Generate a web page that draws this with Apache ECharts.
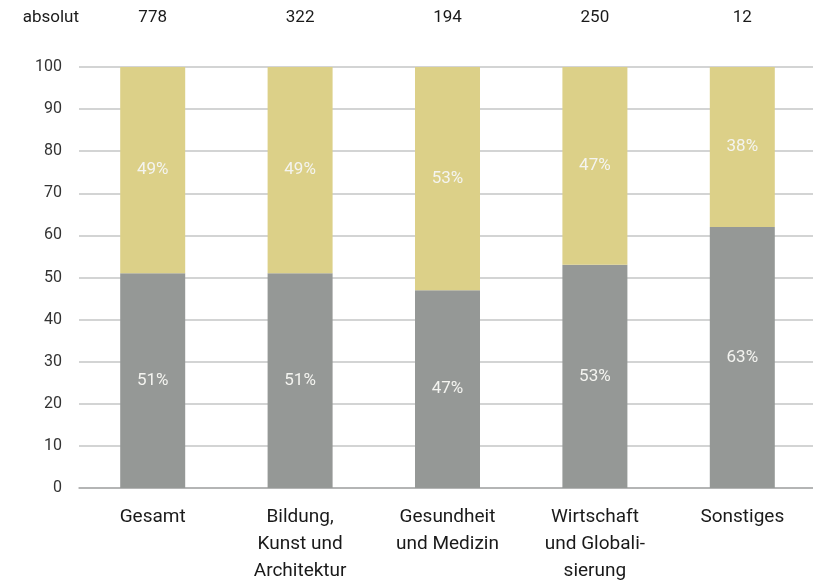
<!DOCTYPE html>
<html>
<head>
<meta charset="utf-8">
<script src="https://cdn.jsdelivr.net/npm/echarts@6/dist/echarts.min.js"></script>
<style>
  html, body { margin: 0; padding: 0; background: #fff; overflow: hidden; }
  #chart { width: 816px; height: 585px; }
</style>
</head>
<body>
<div id="chart"></div>
<script>
const categories = ['Gesamt', 'Bildung,\nKunst und\nArchitektur', 'Gesundheit\nund Medizin', 'Wirtschaft\nund Globali-\nsierung', 'Sonstiges']
const absolut = ['778', '322', '194', '250', '12']
const grayValues = [51, 51, 47, 53, 62]
const yellowValues = [49, 49, 53, 47, 38]
const grayLabels = ['51%', '51%', '47%', '53%', '63%']
const yellowLabels = ['49%', '49%', '53%', '47%', '38%']

const font = '"Liberation Sans Narrow", "Roboto", sans-serif'
const chart = echarts.init(document.getElementById('chart'))

const barLabel = (texts) => ({
  show: true,
  position: 'inside',
  color: '#f4f4f0',
  fontFamily: font,
  fontSize: 17,
  formatter: (p) => texts[p.dataIndex],
})

chart.setOption({
  animation: false,
  grid: { left: 79, right: 0, top: 67, bottom: 95 },
  xAxis: [
    {
      type: 'category',
      data: categories,
      axisLine: { lineStyle: { color: '#aaaaaa', width: 1.5 } },
      axisTick: { show: false },
      axisLabel: {
        color: '#1a1a1a', fontFamily: font, fontSize: 19,
        lineHeight: 27, margin: 16, interval: 0,
      },
    },
    {
      type: 'category',
      position: 'top',
      data: absolut,
      axisLine: { show: false },
      axisTick: { show: false },
      axisLabel: { color: '#1a1a1a', fontFamily: font, fontSize: 17, margin: 41, interval: 0 },
    },
  ],
  yAxis: {
    type: 'value',
    min: 0,
    max: 100,
    interval: 10,
    name: 'absolut',
    nameLocation: 'end',
    nameGap: 41,
    nameTextStyle: { color: '#1a1a1a', fontFamily: font, fontSize: 17, align: 'right' },
    axisLine: { show: false },
    axisTick: { show: false },
    axisLabel: { color: '#333', fontFamily: font, fontSize: 16, margin: 17 },
    splitLine: { lineStyle: { color: '#c4c6c6', width: 1.5 } },
  },
  series: [
    {
      type: 'bar',
      stack: 'total',
      data: grayValues,
      barWidth: 65,
      itemStyle: { color: '#959896' },
      label: barLabel(grayLabels),
    },
    {
      type: 'bar',
      stack: 'total',
      data: yellowValues,
      barWidth: 65,
      itemStyle: { color: '#dcd088' },
      label: barLabel(yellowLabels),
    },
  ],
})
</script>
</body>
</html>
